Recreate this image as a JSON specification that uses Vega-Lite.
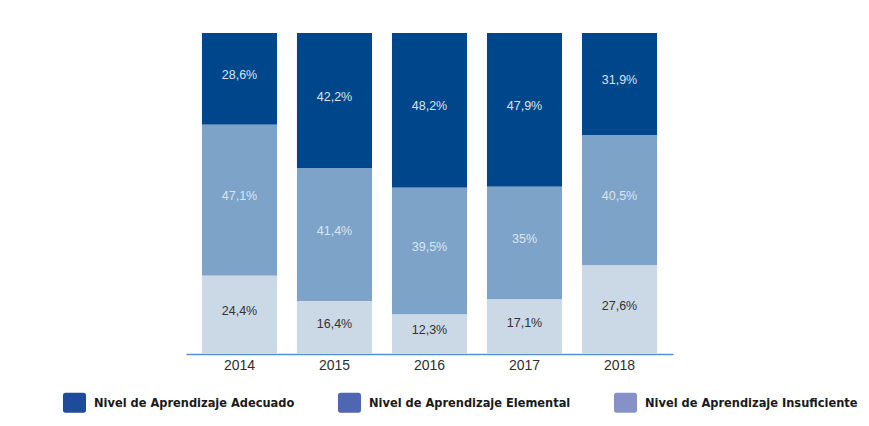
{
  "$schema": "https://vega.github.io/schema/vega-lite/v6.json",
  "width": 487,
  "height": 321,
  "autosize": {"type": "none"},
  "padding": {"left": 186, "top": 33, "right": 196, "bottom": 72},
  "background": "white",
  "config": {
    "view": {"stroke": null},
    "axisX": {
      "title": null,
      "labelAngle": 0,
      "ticks": false,
      "grid": false,
      "domainColor": "#5b8fd0",
      "domainWidth": 1.5,
      "labelFont": "Liberation Sans",
      "labelFontSize": 14,
      "labelColor": "#2e2e2e",
      "labelPadding": 4
    }
  },
  "data": {
    "values": [
      {"anio": "2014", "nivel": "Nivel de Aprendizaje Adecuado", "v": 28.6},
      {"anio": "2014", "nivel": "Nivel de Aprendizaje Elemental", "v": 47.1},
      {"anio": "2014", "nivel": "Nivel de Aprendizaje Insuficiente", "v": 24.4},
      {"anio": "2015", "nivel": "Nivel de Aprendizaje Adecuado", "v": 42.2},
      {"anio": "2015", "nivel": "Nivel de Aprendizaje Elemental", "v": 41.4},
      {"anio": "2015", "nivel": "Nivel de Aprendizaje Insuficiente", "v": 16.4},
      {"anio": "2016", "nivel": "Nivel de Aprendizaje Adecuado", "v": 48.2},
      {"anio": "2016", "nivel": "Nivel de Aprendizaje Elemental", "v": 39.5},
      {"anio": "2016", "nivel": "Nivel de Aprendizaje Insuficiente", "v": 12.3},
      {"anio": "2017", "nivel": "Nivel de Aprendizaje Adecuado", "v": 47.9},
      {"anio": "2017", "nivel": "Nivel de Aprendizaje Elemental", "v": 35},
      {"anio": "2017", "nivel": "Nivel de Aprendizaje Insuficiente", "v": 17.1},
      {"anio": "2018", "nivel": "Nivel de Aprendizaje Adecuado", "v": 31.9},
      {"anio": "2018", "nivel": "Nivel de Aprendizaje Elemental", "v": 40.5},
      {"anio": "2018", "nivel": "Nivel de Aprendizaje Insuficiente", "v": 27.6}
    ]
  },
  "transform": [
    {"stack": "v", "groupby": ["anio"], "sort": [{"field": "nivel", "order": "descending"}], "offset": "normalize", "as": ["y0", "y1"]},
    {"calculate": "(datum.y0 + datum.y1) / 2", "as": "ym"},
    {"calculate": "replace(format(datum.v, '.1~f'), '.', ',') + '%'", "as": "etq"}
  ],
  "layer": [
    {
      "mark": {"type": "bar", "opacity": 0},
      "encoding": {
        "x": {"field": "anio", "type": "ordinal", "scale": {"paddingInner": 0.21, "paddingOuter": 0.168}},
        "y": {"field": "y0", "type": "quantitative", "scale": {"domain": [0, 1]}, "axis": null},
        "y2": {"field": "y1"},
        "color": {
          "field": "nivel",
          "type": "nominal",
          "scale": {
            "domain": ["Nivel de Aprendizaje Adecuado", "Nivel de Aprendizaje Elemental", "Nivel de Aprendizaje Insuficiente"],
            "range": ["#1f4c9a", "#4f67b0", "#8592c8"]
          },
          "legend": {
            "orient": "none",
            "legendX": -122,
            "legendY": 359,
            "direction": "horizontal",
            "columns": 3,
            "title": null,
            "padding": 0,
            "symbolType": "M -0.85,-0.95 L 0.85,-0.95 Q 1.1,-0.95 1.1,-0.7 L 1.1,0.7 Q 1.1,0.95 0.85,0.95 L -0.85,0.95 Q -1.1,0.95 -1.1,0.7 L -1.1,-0.7 Q -1.1,-0.95 -0.85,-0.95 Z",
            "symbolSize": 440,
            "symbolStrokeWidth": 0,
            "symbolOpacity": 1,
            "labelFont": "DejaVu Sans Condensed",
            "labelFontSize": 12.7,
            "labelFontWeight": "bold",
            "labelColor": "#1a1a1a",
            "labelOffset": 9,
            "labelLimit": 0,
            "columnPadding": 42
          }
        }
      }
    },
    {
      "mark": {"type": "bar"},
      "encoding": {
        "x": {"field": "anio", "type": "ordinal"},
        "y": {"field": "y0", "type": "quantitative", "axis": null},
        "y2": {"field": "y1"},
        "fill": {
          "field": "nivel",
          "type": "nominal",
          "scale": {
            "domain": ["Nivel de Aprendizaje Adecuado", "Nivel de Aprendizaje Elemental", "Nivel de Aprendizaje Insuficiente"],
            "range": ["#00468b", "#7ea3c9", "#cbd8e6"]
          },
          "legend": null
        }
      }
    },
    {
      "mark": {"type": "text", "font": "Liberation Sans", "fontSize": 12.5, "baseline": "middle", "dy": -4},
      "encoding": {
        "x": {"field": "anio", "type": "ordinal"},
        "y": {"field": "ym", "type": "quantitative", "axis": null},
        "text": {"field": "etq"},
        "color": {
          "condition": {"test": "datum.nivel === 'Nivel de Aprendizaje Insuficiente'", "value": "#333333"},
          "value": "#dbe3ee"
        }
      }
    }
  ]
}
